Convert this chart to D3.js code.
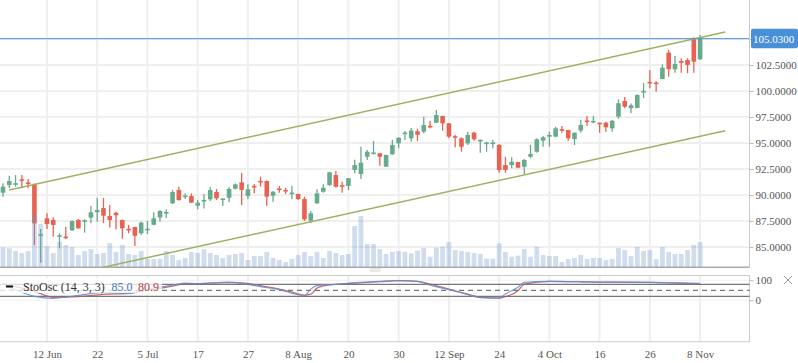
<!DOCTYPE html>
<html>
<head>
<meta charset="utf-8">
<script src="https://cdn.jsdelivr.net/npm/d3@7"></script>
<style>
  body { margin: 0; background: #fff; }
  text { font-family: "Liberation Serif", "Times New Roman", serif; }
</style>
</head>
<body>
<div id="chart"></div>
<script>
// ---- data ----
var opens = [90.22,90.96,90.99,91.47,91.16,91.06,86.12,87.76,87.60,86.03,
  85.96,86.61,87.60,87.47,87.82,88.34,88.75,87.98,88.30,87.60,
  86.71,86.92,86.32,86.65,87.14,87.84,88.26,89.20,90.48,89.84,
  89.90,88.97,89.42,89.59,90.29,89.56,89.74,90.61,91.22,89.90,
  90.83,91.31,91.35,89.93,90.58,90.44,90.13,90.10,89.62,87.53,
  89.20,90.32,90.96,91.92,90.90,90.87,92.42,92.02,93.68,93.98,
  94.01,92.72,93.91,94.97,95.90,95.45,96.13,96.09,96.60,96.95,
  97.60,96.89,95.61,95.45,94.97,95.99,95.19,94.94,94.94,94.81,
  92.88,92.88,93.17,92.72,93.68,94.16,95.22,95.61,95.61,96.28,
  96.25,95.38,96.20,97.12,97.02,96.95,96.95,96.41,97.53,99.04,
  98.34,98.37,99.90,100.83,100.77,101.15,103.68,102.09,102.88,102.98,
  104.97,103.05];
var closes = [90.80,91.35,91.13,91.40,91.10,87.28,86.18,87.21,87.12,86.09,
  85.90,87.50,86.80,87.53,88.34,88.56,88.01,87.60,88.05,86.80,
  86.65,86.08,87.34,86.71,87.76,88.46,88.32,90.29,89.52,89.90,
  89.26,89.26,89.48,90.48,89.68,89.62,90.58,91.03,90.48,90.55,
  90.77,91.25,89.84,90.32,90.52,90.38,90.19,89.62,87.66,88.24,
  90.16,90.70,92.18,90.80,90.84,91.61,92.88,93.11,94.16,94.04,
  93.68,93.85,94.81,95.51,95.96,96.20,95.80,96.73,96.54,97.69,
  96.89,95.61,95.55,94.64,95.77,95.36,95.25,95.00,95.00,92.40,
  92.40,93.20,92.63,93.37,93.94,95.36,95.55,95.77,96.41,96.22,
  95.45,95.99,96.73,97.06,97.08,96.80,96.51,97.14,98.82,98.49,
  98.63,99.62,99.96,100.77,100.71,102.24,102.09,102.60,102.72,102.50,
  102.82,105.03];
var highs = [91.13,91.86,91.92,91.92,91.54,91.10,86.73,88.24,87.86,86.32,
  86.95,87.55,87.69,87.66,88.94,89.74,89.71,89.04,88.39,87.65,
  87.12,86.96,87.43,87.52,88.34,88.56,88.61,90.48,90.80,90.16,
  90.16,89.52,90.10,90.77,90.58,89.68,90.77,91.11,92.12,91.03,
  91.06,91.76,91.40,90.35,90.87,90.70,90.87,90.13,89.84,88.46,
  90.55,91.03,92.24,92.31,91.28,91.64,93.40,94.64,94.33,95.19,
  94.04,93.88,95.29,95.54,96.15,96.44,96.37,97.53,97.14,98.17,
  97.63,96.92,95.77,95.55,96.09,96.09,95.36,95.13,95.29,94.90,
  93.68,93.63,93.20,93.46,94.81,95.45,95.67,96.09,96.57,96.63,
  96.28,96.02,97.24,97.60,97.60,96.98,97.05,97.21,99.18,99.42,
  98.79,99.66,100.77,102.02,100.93,102.57,103.94,103.37,103.14,103.14,
  105.16,105.38];
var lows = [89.84,90.64,90.80,90.64,90.64,85.19,83.49,86.73,85.99,84.88,
  85.77,86.55,86.75,86.38,87.28,87.43,87.31,86.88,86.68,85.80,
  86.32,85.10,86.15,86.25,87.10,87.43,87.76,89.13,89.45,89.62,
  89.23,88.63,88.70,89.42,89.52,88.94,89.33,90.53,89.04,89.59,
  90.16,90.80,88.97,89.36,90.22,90.10,89.59,89.52,87.50,87.28,
  89.17,90.22,90.87,90.70,90.22,90.48,92.09,91.54,93.37,93.91,
  92.82,92.69,93.88,94.49,95.29,95.13,95.19,95.93,96.41,96.92,
  96.18,95.45,94.59,94.16,94.81,95.22,94.07,94.16,94.49,92.14,
  92.14,92.57,92.57,92.02,93.53,94.07,94.64,94.64,95.55,95.99,
  95.22,94.81,96.01,96.63,96.89,95.99,96.09,96.09,97.33,98.34,
  97.86,98.34,99.33,100.26,99.93,101.12,101.38,101.76,101.76,101.70,
  101.76,102.98];
var volumes = [200,190,163,143,163,533,433,213,143,253,
  223,203,123,163,183,133,143,243,153,223,
  133,123,163,83,83,83,163,123,73,93,
  153,143,183,143,123,93,123,133,143,73,
  113,113,153,93,73,53,83,123,153,113,
  153,93,163,143,123,133,413,513,233,233,
  183,133,153,163,156,140,166,193,106,196,
  206,253,173,163,153,143,133,86,86,240,
  153,106,116,183,106,206,123,113,113,53,
  83,93,123,83,93,93,73,83,193,173,
  113,203,163,173,83,203,153,133,133,173,
  223,253];

// x axis labels sit on every 8th candle, starting at candle 7
var dateLabels = ["12 Jun", "22", "5 Jul", "17", "27", "8 Aug", "20", "30",
  "12 Sep", "24", "4 Oct", "16", "26", "8 Nov"];
var labelIdx = dateLabels.map(function(d, i) { return 7 + i * 8; });
var priceTicks = [85, 87.5, 90, 92.5, 95, 97.5, 100, 102.5, 105];
var lastPrice = 105.03;

// channel lines: [candle index, price]
var upperLine = [[1, 90.48], [115, 105.67]];
var lowerLine = [[10, 82.26], [115, 96.18]];

// stochastic oscillator, sampled at candle indexes
var oscIdx = [0, 5, 8, 12, 16, 20, 23, 25, 27, 29, 31, 36, 38, 41, 44, 46, 48, 49, 50, 52,
  55, 60, 63, 66, 68, 71, 74, 76, 79, 80, 82, 83, 87, 95, 103, 111];
var oscK = [80, 20, 10, 25, 40, 35, 55, 65, 76, 86, 83, 91, 85, 68, 53, 35, 23, 56, 73, 78,
  86, 95, 98, 95, 76, 53, 28, 13, 11, 31, 65, 90, 95, 91, 90, 85.0];
var oscD = [82, 45, 15, 18, 30, 35, 50, 60, 71, 83, 84, 88, 87, 73, 56, 41, 26, 31, 61, 77,
  83, 93, 98, 95, 81, 56, 31, 15, 11, 18, 48, 81, 95, 91, 90, 80.9];
var oscTicks = [0, 100];
var oscLevels = [20, 50, 80];

// ---- layout ----
var width = 798, height = 363;
var plotRight = 749.5;
var mainTop = 0, mainBottom = 267.3;
var oscTop = 275.5, oscBottom = 341.7;
var upColor = "#67aa8c", downColor = "#e96150";

var svg = d3.select("#chart").append("svg")
  .attr("width", width).attr("height", height);

var x = d3.scaleLinear().domain([0, 111]).range([3, 700.1]);
var y = d3.scaleLinear().domain([83.05, 108.75]).range([mainBottom, mainTop]);
var yVol = d3.scaleLinear().domain([0, 1000]).range([mainBottom, mainBottom - 100]);
var yOsc = d3.scaleLinear().domain([0, 100]).range([300.3, 280.3]);

svg.append("defs").append("clipPath").attr("id", "mainClip")
  .append("rect").attr("x", 0).attr("y", mainTop)
  .attr("width", plotRight).attr("height", mainBottom - mainTop);

// grid
var grid = svg.append("g");
grid.selectAll(".hg").data(priceTicks).enter().append("line")
  .attr("x1", 0).attr("x2", plotRight)
  .attr("y1", function(d) { return y(d); }).attr("y2", function(d) { return y(d); })
  .attr("stroke", "#efefef").attr("stroke-width", 2);
[[mainTop, mainBottom], [oscTop, oscBottom]].forEach(function(r) {
  grid.selectAll(null).data(labelIdx).enter().append("line")
    .attr("x1", function(d) { return x(d); }).attr("x2", function(d) { return x(d); })
    .attr("y1", r[0]).attr("y2", r[1])
    .attr("stroke", "#efefef").attr("stroke-width", 2);
});
grid.selectAll(".og").data(oscTicks).enter().append("line")
  .attr("x1", 0).attr("x2", plotRight)
  .attr("y1", function(d) { return yOsc(d); }).attr("y2", function(d) { return yOsc(d); })
  .attr("stroke", "#f0f0f0").attr("stroke-width", 1);

// candles
var candles = svg.append("g").attr("clip-path", "url(#mainClip)");
var idx = d3.range(opens.length);
var bodyW = 4.6;
candles.selectAll(".wick").data(idx).enter().append("line")
  .attr("x1", function(i) { return x(i); }).attr("x2", function(i) { return x(i); })
  .attr("y1", function(i) { return y(highs[i]); }).attr("y2", function(i) { return y(lows[i]); })
  .attr("stroke", function(i) { return closes[i] >= opens[i] ? upColor : downColor; })
  .attr("stroke-width", 1.3);
candles.selectAll(".body").data(idx).enter().append("rect")
  .attr("x", function(i) { return x(i) - bodyW / 2; })
  .attr("width", bodyW)
  .attr("y", function(i) {
    var t = y(Math.max(opens[i], closes[i])), b = y(Math.min(opens[i], closes[i]));
    return b - t < 1.6 ? (t + b) / 2 - 0.8 : t;
  })
  .attr("height", function(i) {
    return Math.max(1.6, y(Math.min(opens[i], closes[i])) - y(Math.max(opens[i], closes[i])));
  })
  .attr("fill", function(i) { return closes[i] >= opens[i] ? upColor : downColor; });

// volume, drawn over the candles with transparency
svg.append("g").selectAll("rect").data(idx).enter().append("rect")
  .attr("x", function(i) { return x(i) - 2.4; })
  .attr("width", 4.8)
  .attr("y", function(i) { return yVol(volumes[i]); })
  .attr("height", function(i) { return mainBottom - yVol(volumes[i]); })
  .attr("fill", "#7097cc").attr("fill-opacity", 0.33);

svg.append("line")
  .attr("x1", 0).attr("x2", plotRight).attr("y1", mainBottom).attr("y2", mainBottom)
  .attr("stroke", "#a9a9a9").attr("stroke-width", 1.5);

// channel lines
var trend = d3.line().x(function(d) { return x(d[0]); }).y(function(d) { return y(d[1]); });
svg.append("g").attr("clip-path", "url(#mainClip)")
  .selectAll("path").data([upperLine, lowerLine]).enter().append("path")
  .attr("d", trend).attr("fill", "none")
  .attr("stroke", "#9db262").attr("stroke-width", 1.5);

// last price line
svg.append("line")
  .attr("x1", 0).attr("x2", plotRight)
  .attr("y1", y(lastPrice)).attr("y2", y(lastPrice))
  .attr("stroke", "#4a8fd6").attr("stroke-width", 1);

// right axis for price (the label under the price badge is hidden)
var yAxis = svg.append("g")
  .attr("transform", "translate(" + plotRight + ",0)")
  .call(d3.axisRight(y).tickValues(priceTicks).tickSize(4).tickPadding(2)
    .tickFormat(function(d) { return Math.abs(d - lastPrice) < 1 ? "" : d3.format(".4f")(d); }));
yAxis.select(".domain").remove();
yAxis.selectAll("line").attr("stroke", "#bbb");
yAxis.selectAll("text").attr("fill", "#555").attr("font-size", "11px")
  .style("font-family", "'Liberation Serif', serif");

svg.append("line")
  .attr("x1", plotRight).attr("x2", plotRight).attr("y1", mainTop).attr("y2", mainBottom)
  .attr("stroke", "#c8c8c8");

// price badge
svg.append("rect")
  .attr("x", 751).attr("y", y(lastPrice) - 10).attr("width", 47).attr("height", 19.5)
  .attr("rx", 2).attr("fill", "#4a90d9");
svg.append("text")
  .attr("x", 753).attr("y", y(lastPrice) + 4)
  .attr("fill", "#fff").attr("font-size", "11px")
  .text(d3.format(".4f")(lastPrice));

// panel resize handle
svg.append("rect").attr("x", 370).attr("y", 268.5).attr("width", 10).attr("height", 3)
  .attr("fill", "#ececec").attr("stroke", "#dadada").attr("stroke-width", 0.5);

// ---- oscillator panel ----
svg.append("rect")
  .attr("x", -1).attr("y", oscTop).attr("width", plotRight + 1).attr("height", oscBottom - oscTop)
  .attr("fill", "none").attr("stroke", "#cccccc");

oscLevels.forEach(function(v) {
  svg.append("line")
    .attr("x1", 0).attr("x2", plotRight).attr("y1", yOsc(v)).attr("y2", yOsc(v))
    .attr("stroke", "#555").attr("stroke-width", 1)
    .attr("stroke-dasharray", v === 50 ? "5,4" : null);
});

var oscLine = d3.line()
  .x(function(d) { return x(d[0]); }).y(function(d) { return yOsc(d[1]); })
  .curve(d3.curveMonotoneX);
svg.append("path")
  .attr("d", oscLine(oscIdx.map(function(d, i) { return [d, oscD[i]]; })))
  .attr("fill", "none").attr("stroke", "#c0504f").attr("stroke-width", 1.2).attr("opacity", 0.85);
svg.append("path")
  .attr("d", oscLine(oscIdx.map(function(d, i) { return [d, oscK[i]]; })))
  .attr("fill", "none").attr("stroke", "#5b8fd6").attr("stroke-width", 1.2).attr("opacity", 0.85);

// legend
svg.append("rect").attr("x", 0).attr("y", 278).attr("width", 162).attr("height", 15)
  .attr("fill", "#fff").attr("fill-opacity", 0.75);
svg.append("rect").attr("x", 6).attr("y", 285.5).attr("width", 7).attr("height", 2)
  .attr("fill", "#111");
svg.append("text").attr("x", 23).attr("y", 291).attr("font-size", "12px")
  .attr("fill", "#333").text("StoOsc (14, 3, 3)");
svg.append("text").attr("x", 111.5).attr("y", 291).attr("font-size", "12px")
  .attr("fill", "#4a76b4").text(d3.format(".1f")(oscK[oscK.length - 1]));
svg.append("text").attr("x", 138).attr("y", 291).attr("font-size", "12px")
  .attr("fill", "#b5403f").text(d3.format(".1f")(oscD[oscD.length - 1]));

var oAxis = svg.append("g")
  .attr("transform", "translate(" + plotRight + ",0)")
  .call(d3.axisRight(yOsc).tickValues(oscTicks).tickSize(4).tickPadding(2));
oAxis.select(".domain").remove();
oAxis.selectAll("line").attr("stroke", "#bbb");
oAxis.selectAll("text").attr("fill", "#555").attr("font-size", "11px")
  .style("font-family", "'Liberation Serif', serif");

// close button
svg.append("path").attr("d", "M784,276 L792,284 M792,276 L784,284")
  .attr("stroke", "#999").attr("stroke-width", 1);

// x axis
var xAxis = svg.append("g")
  .attr("transform", "translate(0," + oscBottom + ")")
  .call(d3.axisBottom(x).tickValues(labelIdx).tickSize(0).tickPadding(8.2)
    .tickFormat(function(d, i) { return dateLabels[i]; }));
xAxis.select(".domain").remove();
xAxis.selectAll("text").attr("fill", "#555").attr("font-size", "11px")
  .style("font-family", "'Liberation Serif', serif");
</script>
</body>
</html>
